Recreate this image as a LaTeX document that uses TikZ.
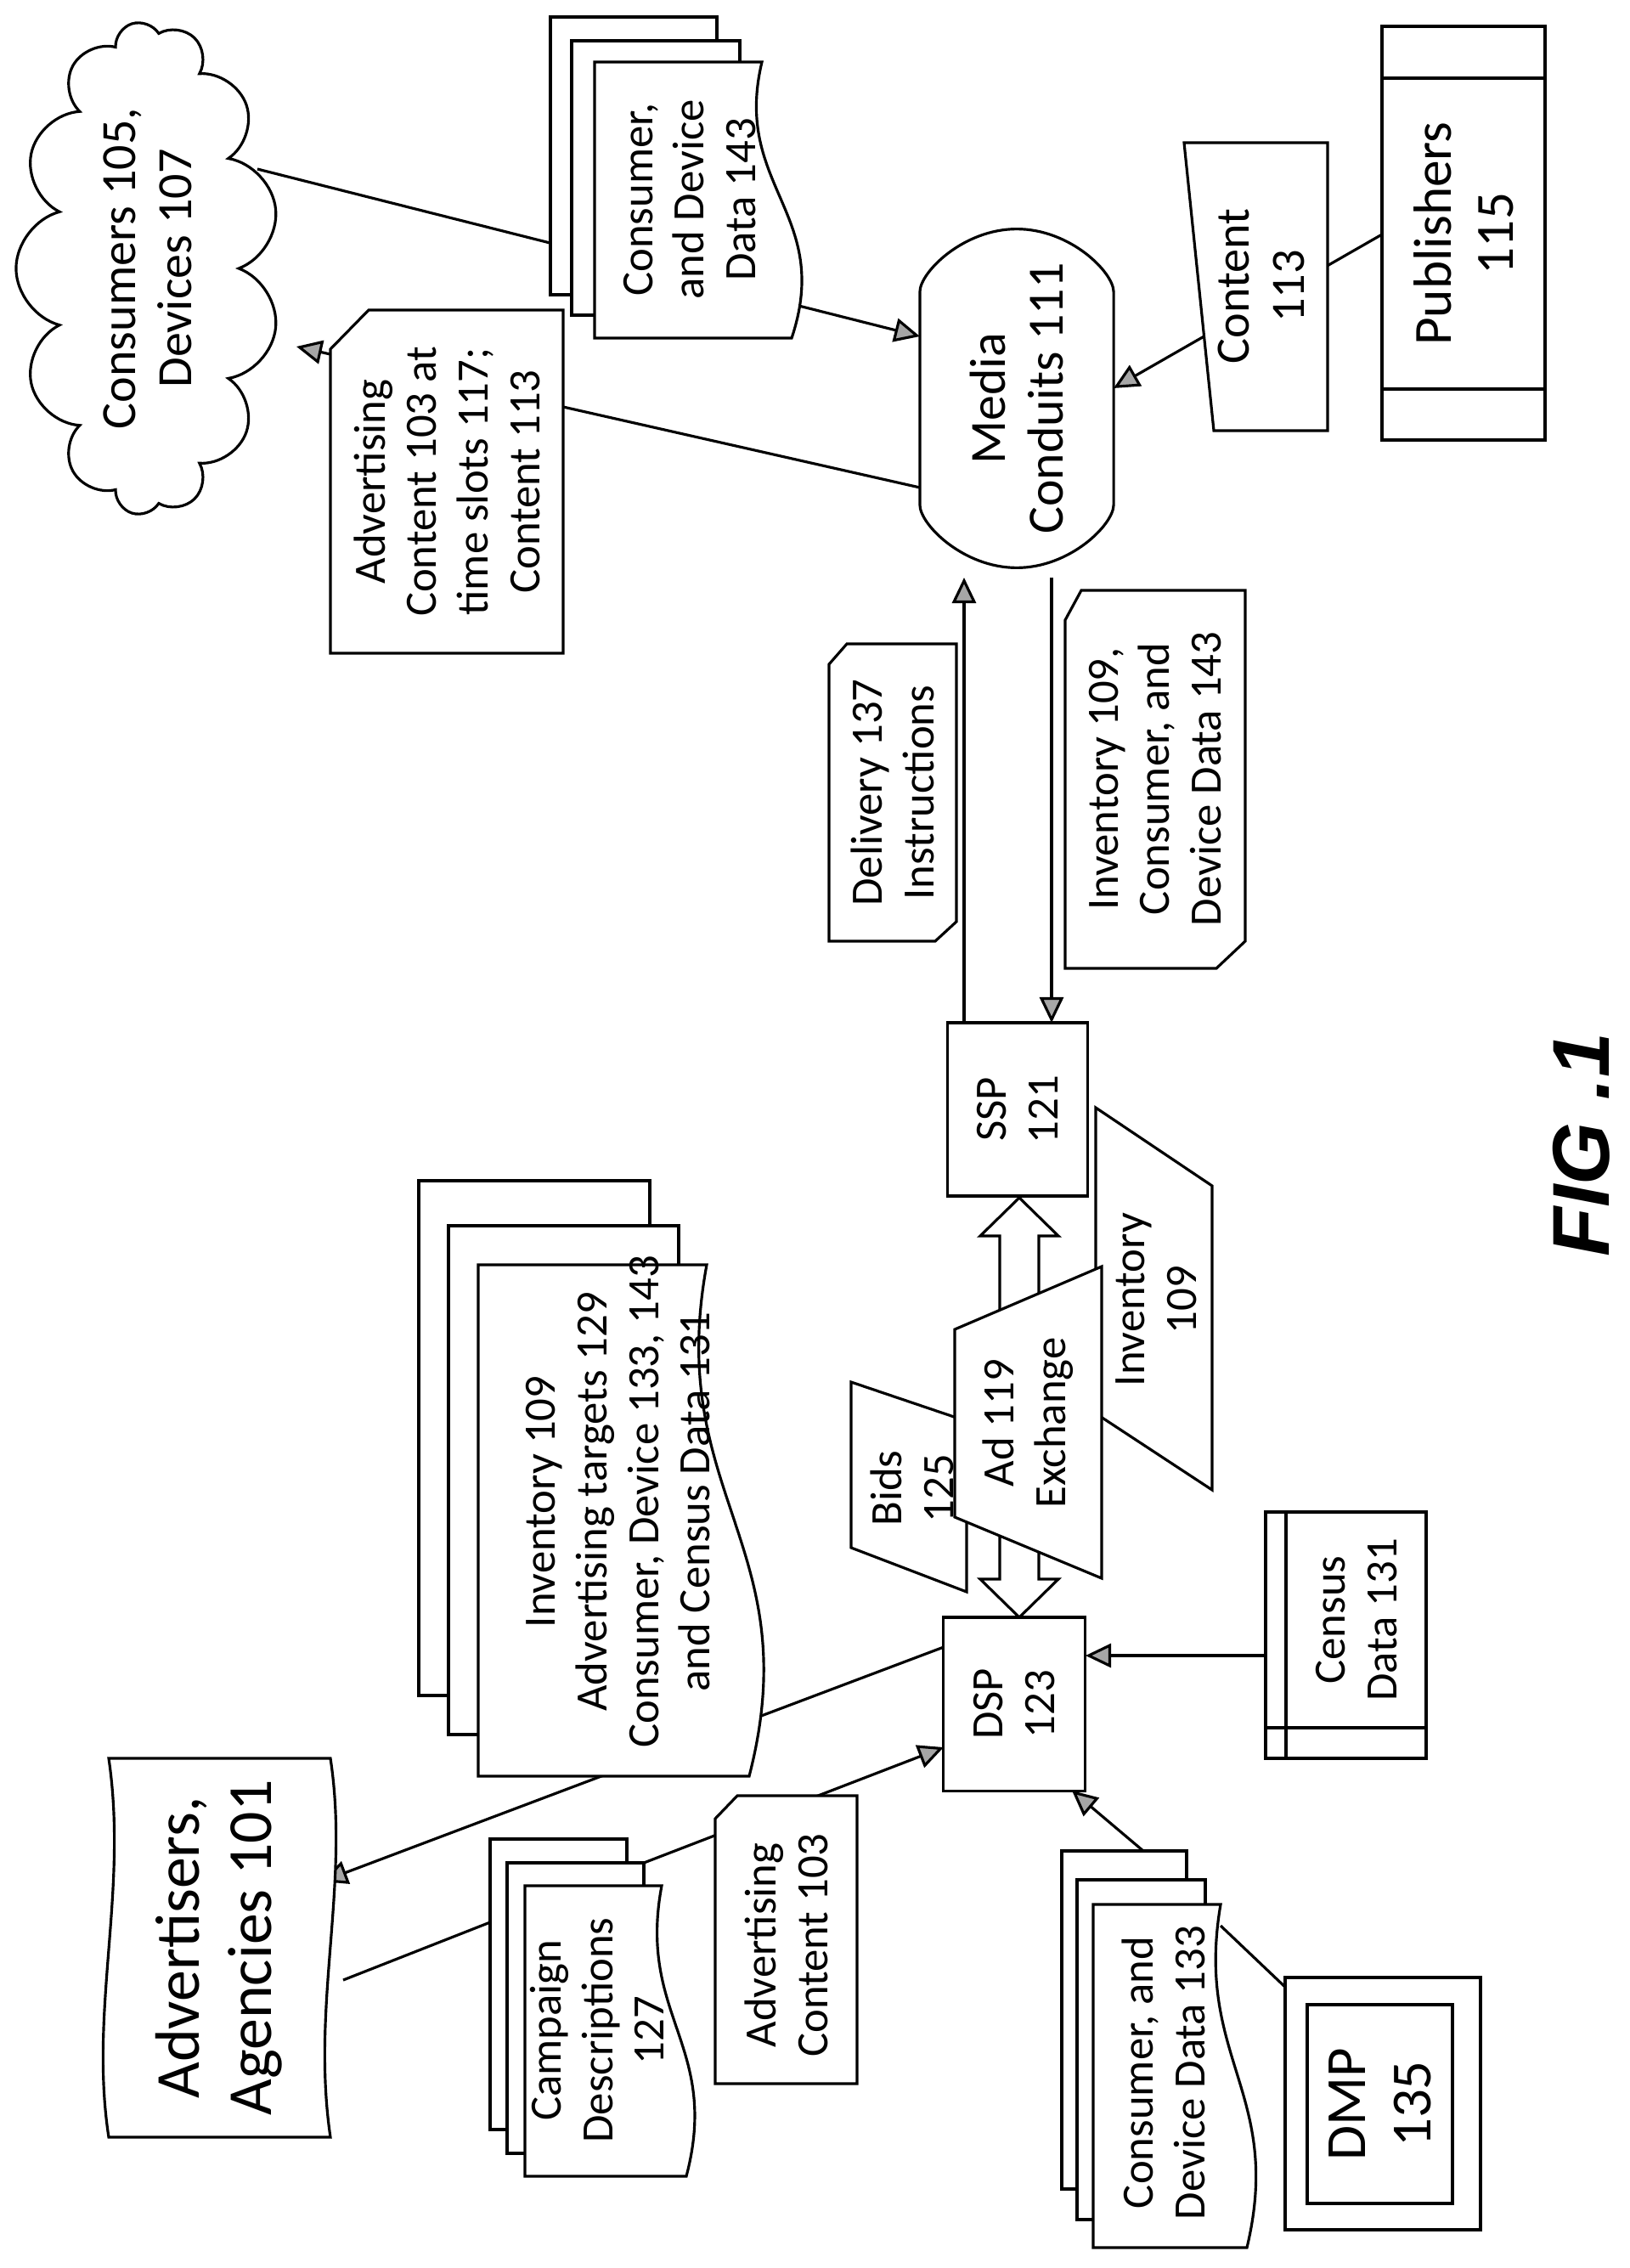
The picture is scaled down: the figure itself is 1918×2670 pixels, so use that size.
\documentclass[tikz,border=0pt]{standalone}
\usepackage{fontspec}
\setmainfont{Carlito}
\newfontfamily\figfont{Liberation Sans}
\usetikzlibrary{arrows.meta,shapes.symbols,shapes.misc}
\newcommand\fsz[1]{\fontsize{#1pt}{\the\dimexpr #1pt*115/100\relax}\selectfont}
% page with a wavy right edge (text is turned)
\newcommand\wavydoc[5]{\filldraw[fill=white] (#1,#2) -- (#3,#2)
  .. controls ({#3-#5},{#2+0.45*(#4-#2)}) and ({#3+2.4*#5},{#2+0.55*(#4-#2)}) .. ({#3+#5},#4)
  -- (#1,#4) -- cycle;}
\tikzset{
  box/.style={draw, fill=white},
  txt/.style={rotate=90, align=center, inner sep=1pt, font=\fsz{15}},
  flow/.style={->},
}
\begin{document}
\begin{tikzpicture}[x=0.01cm, y=-0.01cm, line width=0.9pt,
  >={Triangle[length=0.3cm,width=0.28cm,fill=gray!70]}]
\useasboundingbox (0,0) rectangle (1918,2670);

% connectors (drawn first, the boxes lie over them)
\coordinate (cl1) at (303,199);   \coordinate (mc1) at (1083,396);
\coordinate (mc2) at (1083,574);  \coordinate (cl2) at (349,408);
\coordinate (pb1) at (1627,276);  \coordinate (mc3) at (1311,457);
\coordinate (mc4) at (1135,680);  \coordinate (ss1) at (1135,1204);
\coordinate (mc5) at (1238,680);  \coordinate (ss2) at (1238,1204);
\coordinate (cn1) at (1490,1949); \coordinate (ds1) at (1278,1949);
\coordinate (cd1) at (1346,2179); \coordinate (ds2) at (1262,2108);
\coordinate (ds3) at (1111,1939); \coordinate (ad1) at (379,2215);
\coordinate (cp1) at (758,2193);  \coordinate (ds4) at (1111,2057);
\coordinate (ad2) at (404,2331);  \coordinate (cp2) at (577,2263);
\coordinate (cd2) at (1437,2267); \coordinate (dm1) at (1517,2343);

\draw[flow] (cl1) -- (mc1);
\draw[flow] (mc2) -- (cl2);
\draw[flow] (pb1) -- (mc3);
\draw[flow] (ss1) -- (mc4);
\draw[flow] (mc5) -- (ss2);
\draw[flow] (cn1) -- (ds1);
\draw[flow] (cd1) -- (ds2);
\draw[flow] (ds3) -- (ad1);
\draw[flow] (cp1) -- (ds4);
\draw (ad2) -- (cp2);
\draw (cd2) -- (dm1);

% consumers and media side
\node[cloud, cloud puffs=13, draw, fill=white, rotate=90, minimum width=5.8cm,
  minimum height=3.1cm] (cloud) at (174,316) {};
\node[txt, font=\fsz{16.5}] (cloudtxt) at (174,316) {Consumers 105,\\Devices 107};

\draw[box] (648,20) rectangle (844,347);
\draw[box] (673,48) rectangle (871,371);
\wavydoc{700}{73}{897}{398}{35}
\node[txt] (cdata143) at (812,235) {Consumer,\\and Device\\Data 143};

\filldraw[fill=white] (389,411) -- (434,365) -- (663,365) -- (663,769) -- (389,769) -- cycle;
\node[txt] (adslots) at (526,567) {Advertising\\Content 103 at\\time slots 117;\\Content 113};

\node[rounded rectangle, rounded rectangle arc length=180, draw, fill=white, rotate=90,
  minimum width=4.22cm, minimum height=2.28cm, rounded corners=0.4cm] (media) at (1197,469) {};
\node[txt, font=\fsz{17}] (mediatxt) at (1197,469) {Media\\Conduits 111};

\filldraw[fill=white] (1394,168) -- (1563,168) -- (1563,507) -- (1429,507) -- cycle;
\node[txt, font=\fsz{16}] (content) at (1485,337) {Content\\113};

\draw[box] (1627,31) rectangle (1819,518);
\draw (1627,92) -- (1819,92) (1627,458) -- (1819,458);
\node[txt, font=\fsz{18}] (publishers) at (1723,275) {Publishers\\115};

\filldraw[fill=white] (976,782) -- (997,758) -- (1126,758) -- (1126,1085) -- (1101,1108) -- (976,1108) -- cycle;
\node[txt] (delivery) at (1051,933) {Delivery 137\\Instructions};

\filldraw[fill=white] (1254,730) -- (1273,695) -- (1466,695) -- (1466,1108) -- (1432,1140) -- (1254,1140) -- cycle;
\node[txt] (inv143) at (1360,917) {Inventory 109,\\Consumer, and\\Device Data 143};

\node[draw, fill=white, rotate=90, minimum width=2.04cm, minimum height=1.65cm,
  align=center, font=\fsz{15}] (ssp) at (1198,1306) {SSP\\121};

% exchange
\filldraw[fill=white] (1002,1627) -- (1138,1673) -- (1138,1874) -- (1002,1822) -- cycle;
\node[txt] (bids) at (1074,1752) {Bids\\125};
\filldraw[fill=white] (1290,1304) -- (1427,1396) -- (1427,1754) -- (1290,1664) -- cycle;
\node[txt] (inv109) at (1361,1530) {Inventory\\109};
\filldraw[fill=white] (1200,1410) -- (1246,1455) -- (1223,1455) -- (1223,1859) -- (1246,1859)
  -- (1200,1904) -- (1154,1859) -- (1177,1859) -- (1177,1455) -- (1154,1455) -- cycle;
\filldraw[fill=white] (1124,1565) -- (1297,1491) -- (1297,1858) -- (1124,1786) -- cycle;
\node[txt] (exchange) at (1210,1675) {Ad 119\\Exchange};

\node[draw, fill=white, rotate=90, minimum width=2.04cm, minimum height=1.67cm,
  align=center, font=\fsz{15}] (dsp) at (1194,2006) {DSP\\123};

\draw[box] (1490,1780) rectangle (1679,2070);
\draw (1514,1780) -- (1514,2070) (1490,2034) -- (1679,2034);
\node[txt] (census) at (1597,1907) {Census\\Data 131};

% advertiser side
\draw[box] (493,1390) rectangle (765,1996);
\draw[box] (528,1443) rectangle (799,2042);
\wavydoc{563}{1489}{832}{2091}{50}
\node[txt] (targets) at (728,1768) {Inventory 109\\Advertising targets 129\\Consumer, Device 133, 143\\and Census Data 131};

\filldraw[fill=white] (128,2070) -- (389,2070)
  .. controls (412,2220) and (366,2360) .. (389,2516) -- (128,2516)
  .. controls (105,2366) and (151,2226) .. cycle;
\node[txt, font=\fsz{21}] (advertisers) at (258,2293) {Advertisers,\\Agencies 101};

\draw[box] (577,2165) rectangle (738,2507);
\draw[box] (597,2193) rectangle (758,2535);
\wavydoc{618}{2220}{779}{2562}{29}
\node[txt] (campaign) at (703,2390) {Campaign\\Descriptions\\127};

\filldraw[fill=white] (842,2141) -- (868,2114) -- (1009,2114) -- (1009,2453) -- (842,2453) -- cycle;
\node[txt] (adcontent) at (926,2290) {Advertising\\Content 103};

\draw[box] (1250,2179) rectangle (1397,2577);
\draw[box] (1268,2213) rectangle (1419,2613);
\wavydoc{1287}{2242}{1437}{2646}{31}
\node[txt] (cdata133) at (1370,2440) {Consumer, and\\Device Data 133};

\draw[box] (1513,2328) rectangle (1743,2625);
\draw (1539,2360) rectangle (1710,2594);
\node[txt, font=\fsz{19}] (dmp) at (1625,2477) {DMP\\135};

\node[rotate=90, font=\figfont\bfseries\itshape\fsz{27}] (fig) at (1862,1348) {FIG .1};
\end{tikzpicture}
\end{document}
